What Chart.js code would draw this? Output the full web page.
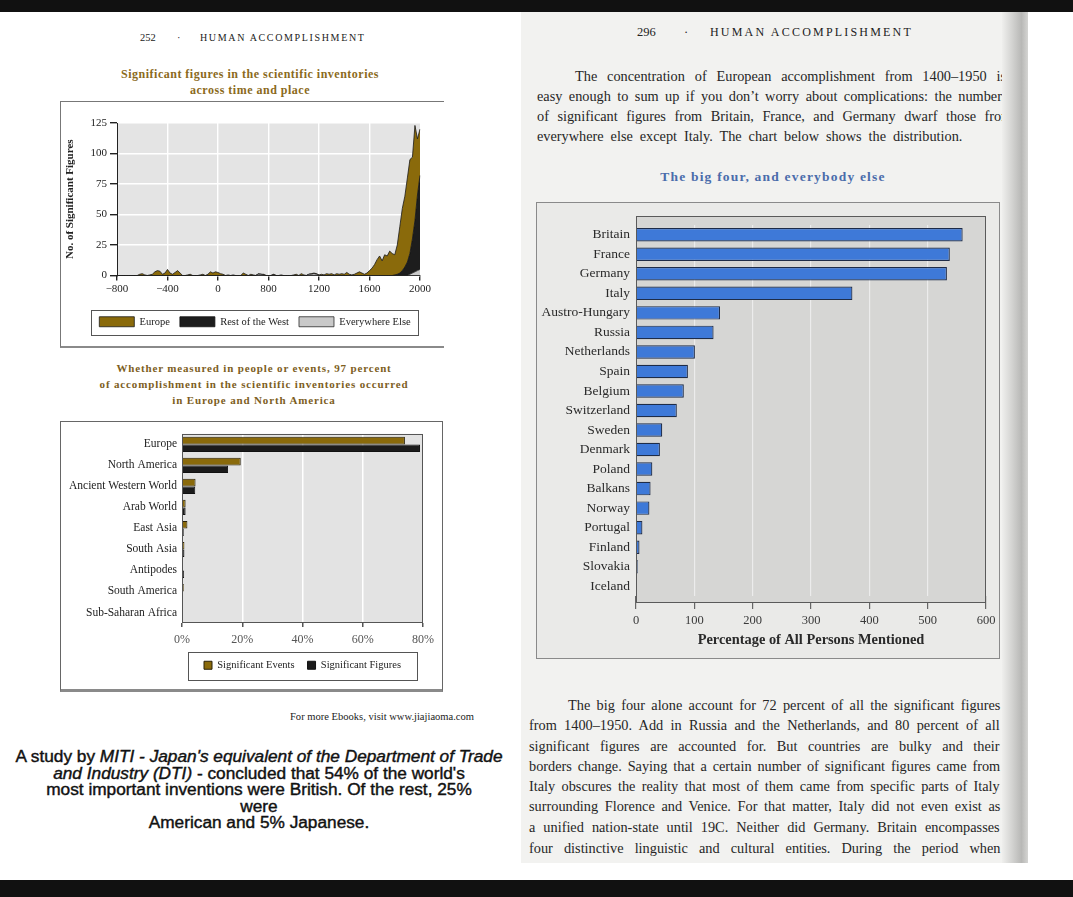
<!DOCTYPE html>
<html><head><meta charset="utf-8">
<script src="https://cdn.jsdelivr.net/npm/chart.js@4.4.1/dist/chart.umd.min.js"></script>
<style>
html,body{margin:0;padding:0}
body{width:1073px;height:897px;position:relative;overflow:hidden;background:#fff;font-family:'Liberation Serif','Times New Roman',serif;color:#222}
.a{position:absolute;white-space:nowrap}
canvas{position:absolute}
.jl{position:absolute;white-space:nowrap;font-size:14.3px;line-height:20px;height:20px;color:#262626}
</style></head><body>

<!-- right page paper -->
<div class="a" style="left:521px;top:12px;width:482px;height:851px;background:#f2f2f0"></div>

<!-- left page header + titles -->
<div class="a" style="left:140px;top:31px;font-size:10.5px;line-height:14px">252</div>
<div class="a" style="left:177px;top:31px;font-size:10.5px;line-height:14px">·</div>
<div class="a" style="left:200px;top:31px;font-size:10px;line-height:14px;letter-spacing:1.65px">HUMAN ACCOMPLISHMENT</div>
<div class="a" style="left:100px;width:300px;top:67px;text-align:center;font-size:12px;line-height:14px;font-weight:bold;color:#8b6a1c;letter-spacing:0.5px">Significant figures in the scientific inventories</div>
<div class="a" style="left:100px;width:300px;top:83px;text-align:center;font-size:12px;line-height:14px;font-weight:bold;color:#8b6a1c;letter-spacing:0.5px">across time and place</div>

<!-- chart 1 frame -->
<div class="a" style="left:60px;top:101px;width:383px;height:244px;border-top:1px solid #777;border-left:1px solid #777;border-bottom:2px solid #8a8a8a"></div>

<!-- chart 2 titles + frame -->
<div class="a" style="left:54px;width:400px;top:361px;text-align:center;font-size:11px;line-height:14px;font-weight:bold;color:#7d5e1e;letter-spacing:0.85px">Whether measured in people or events, 97 percent</div>
<div class="a" style="left:54px;width:400px;top:377px;text-align:center;font-size:11px;line-height:14px;font-weight:bold;color:#7d5e1e;letter-spacing:0.85px">of accomplishment in the scientific inventories occurred</div>
<div class="a" style="left:54px;width:400px;top:393px;text-align:center;font-size:11px;line-height:14px;font-weight:bold;color:#7d5e1e;letter-spacing:0.85px">in Europe and North America</div>
<div class="a" style="left:60px;top:421px;width:381px;height:267px;border:1px solid #666;border-bottom:3px solid #8a8a8a"></div>

<!-- left page bottom text -->
<div class="a" id="ebook" style="left:290px;top:711px;font-size:9.5px;line-height:12px;transform-origin:0 0">For more Ebooks, visit www.jiajiaoma.com</div>
<div class="a" id="miti" style="left:0;width:518px;top:749px;text-align:center;font-family:'Liberation Sans',sans-serif;font-size:16px;line-height:16.5px;color:#111;-webkit-text-stroke:0.4px #111;transform-origin:259px 0"><span id="miti1">A study by <i>MITI - Japan's equivalent of the Department of Trade</i></span><br><i>and Industry (DTI)</i> - concluded that 54% of the world's<br>most important inventions were British. Of the rest, 25%<br>were<br>American and 5% Japanese.</div>

<!-- right page header -->
<div class="a" style="left:637px;top:24px;font-size:12.5px;line-height:16px">296</div>
<div class="a" style="left:684px;top:24px;font-size:12.5px;line-height:16px">·</div>
<div class="a" style="left:710px;top:24px;font-size:12px;line-height:16px;letter-spacing:2.2px">HUMAN ACCOMPLISHMENT</div>

<!-- right page paragraph 1 -->
<div class="jl" data-l="575" data-r="1006" data-y="76">The concentration of European accomplishment from 1400–1950 is</div>
<div class="jl" data-l="537" data-r="1008" data-y="96">easy enough to sum up if you don’t worry about complications: the numbers</div>
<div class="jl" data-l="537" data-r="1012" data-y="116">of significant figures from Britain, France, and Germany dwarf those from</div>
<div class="jl" data-l="537" data-r="962" data-y="136">everywhere else except Italy. The chart below shows the distribution.</div>

<div class="a" style="left:573px;width:400px;top:169px;text-align:center;font-size:13.5px;line-height:16px;font-weight:bold;color:#4a6cab;letter-spacing:1.2px">The big four, and everybody else</div>

<!-- chart 3 frame -->
<div class="a" style="left:536px;top:202px;width:462px;height:455px;border:1px solid #8a8a8a;background:#eaeae8"></div>

<!-- right page paragraph 2 -->
<div class="jl" data-l="568" data-r="1000" data-y="705">The big four alone account for 72 percent of all the significant figures</div>
<div class="jl" data-l="529" data-r="1000" data-y="725">from 1400–1950. Add in Russia and the Netherlands, and 80 percent of all</div>
<div class="jl" data-l="529" data-r="1000" data-y="746">significant figures are accounted for. But countries are bulky and their</div>
<div class="jl" data-l="529" data-r="1000" data-y="766">borders change. Saying that a certain number of significant figures came from</div>
<div class="jl" data-l="529" data-r="1000" data-y="786">Italy obscures the reality that most of them came from specific parts of Italy</div>
<div class="jl" data-l="529" data-r="1000" data-y="806">surrounding Florence and Venice. For that matter, Italy did not even exist as</div>
<div class="jl" data-l="529" data-r="1000" data-y="827">a unified nation-state until 19C. Neither did Germany. Britain encompasses</div>
<div class="jl" data-l="529" data-r="1000" data-y="848">four distinctive linguistic and cultural entities. During the period when</div>

<canvas id="c1" width="383" height="246" style="left:60px;top:100px"></canvas>
<canvas id="c2" width="383" height="269" style="left:60px;top:422px"></canvas>
<canvas id="c3" width="464" height="457" style="left:536px;top:202px"></canvas>

<!-- gutter shadow, outer margin and scan bands on top -->
<div class="a" style="left:1002px;top:12px;width:26px;height:851px;background:linear-gradient(to right,#efefed,#d6d6d4 35%,#b8b8b6 75%,#d4d4d2);z-index:5"></div>
<div class="a" style="left:1028px;top:12px;width:45px;height:868px;background:#fff;z-index:5"></div>
<div class="a" style="left:0;top:0;width:1073px;height:12px;background:#111;z-index:6"></div>
<div class="a" style="left:0;top:880px;width:1073px;height:17px;background:#111;z-index:6"></div>

<script>
// ===================== DATA =====================
// Chart 1: significant figures across time (stacked area), 20 samples between labelled ticks
const areaTickLabels = ['−800', '−400', '0', '800', '1200', '1600', '2000'];
const samplesPerTick = 20;
const areaSeriesNames = ['Europe', 'Rest of the West', 'Everywhere Else'];
const europeFigures = [
  0,0,0,0,0,0,0,0,0,1,
  1.5,0.5,0,0.5,1,3,4,3.5,1,2,
  5,2,1,2.5,4,2,0,0,0.5,1,
  0,0,0,0.5,1,0,1,3,2,3,
  2.5,1.5,1,0,0.5,0,0.5,0,0,0,
  2,1,0,1,0.5,0,0.5,0,0.5,0,
  0,0,0.5,0,0,0.5,0,0,0,0,
  0.5,1,0,1.5,0.5,0,0,0.5,0.5,0.5,
  0.5,1,0.5,1.5,1,1.5,0.5,1.5,1,1.5,
  1,2.5,1,0.5,1,2,3,2,1,2,
  4,6,9,13,16,12,17,16,20,18,
  16.5,24,38,51,58,69,77,67,78,46,
  38
];
const restOfWestFigures = [
  0,0,0,0,0,0,0,0,0,0,
  0,0,0,0,0,0,0,0,0,0,
  0,0,0,0,0,0,0,0,0,0,
  0,0,0,0,0,0,0,0,0,0,
  0,0,0,0,0,0,0,0,0,0,
  0,0,0,0,0,0,0,0,0,0,
  0,0,0,0,0,0,0,0,0,0,
  0,0,0,0,0,0,0,0,0,0,
  0,0,0,0,0,0,0,0,0,0,
  0,0,0,0,0,0,0,0,0,0,
  0,0,0,0,0,0,0,0,0,0,
  0.5,1,2,4,7,11,17,28,42,62,
  77
];
const everywhereElseFigures = [
  0,0,0,0,0,0,0,0,0,0,
  0,0,0,0,0,0,0,0,0,0,
  0,0,0,0,0,0,0,0,0,0,
  0,0,0,0,0,0,0,0,0,0,
  0,0,0,0,0,0,0,0,0,0,
  0,0,0,0,0,0,1,1,0.5,0,
  0,0,0.5,0,0,0,0,0,0,0,
  0,0,0,0,0,0,1,1,1.5,1,
  0,0,0,0,0,0,0,0,0,0,
  0,0,0,0,0,0,0,0,0,0,
  0,0,0,0,0,0,0,0,0,0,
  0,0,0,0,0,0,1,2,3,4,
  5
];

// Chart 2: share of accomplishment by region (%)
const regions = ['Europe', 'North America', 'Ancient Western World', 'Arab World', 'East Asia', 'South Asia', 'Antipodes', 'South America', 'Sub-Saharan Africa'];
const significantEvents  = [74, 19.5, 4.5, 1.2, 1.8, 0.8, 0.15, 0.6, 0.2];
const significantFigures = [79, 15.3, 4.4, 1.2, 0.6, 0.8, 0.7, 0.1, 0.1];
const regionTickLabels = ['0%', '20%', '40%', '60%', '80%'];

// Chart 3: the big four and everybody else
const countries = ['Britain', 'France', 'Germany', 'Italy', 'Austro-Hungary', 'Russia', 'Netherlands', 'Spain', 'Belgium', 'Switzerland', 'Sweden', 'Denmark', 'Poland', 'Balkans', 'Norway', 'Portugal', 'Finland', 'Slovakia', 'Iceland'];
const personsMentioned = [560, 538, 533, 371, 144, 133, 101, 89, 82, 70, 45, 41, 28, 25, 23, 11, 6, 3, 1];
const countryTickLabels = ['0', '100', '200', '300', '400', '500', '600'];

// ===================== LAYOUT HELPERS =====================
document.querySelectorAll('.jl').forEach(el => {
  const l = +el.dataset.l, r = +el.dataset.r, y = +el.dataset.y;
  el.style.left = l + 'px'; el.style.top = (y - 10) + 'px';
  const w = el.scrollWidth;
  const n = (el.textContent.match(/ /g) || []).length;
  if (n && r > l) el.style.wordSpacing = ((r - l - w) / n) + 'px';
});
(function(){
  const m1 = document.getElementById('miti1');
  const s = 487 / m1.getBoundingClientRect().width;
  document.getElementById('miti').style.transform = 'scaleX(' + s + ')';
  const eb = document.getElementById('ebook');
  eb.style.transform = 'scaleX(' + (184 / eb.getBoundingClientRect().width) + ')';
})();

// ===================== CHARTS =====================
Chart.defaults.font.family = "'Liberation Serif', 'Times New Roman', serif";
Chart.defaults.color = '#222';

const plotPanel = {
  id: 'plotPanel',
  beforeDraw(chart, args, o) {
    const a = chart.chartArea, c = chart.ctx;
    const t = a.top - (o.extTop || 0), b = a.bottom + (o.extBottom || 0);
    c.save(); c.fillStyle = o.fill; c.fillRect(a.left, t, a.right - a.left, b - t); c.restore();
  },
  beforeDatasetsDraw(chart, args, o) {
    if (!o.extBottom) return;
    const a = chart.chartArea, c = chart.ctx;
    c.save(); c.fillStyle = o.fill; c.fillRect(a.left, a.bottom, a.right - a.left, o.extBottom); c.restore();
  },
  afterDatasetsDraw(chart, args, o) {
    if (!o.stroke) return;
    const a = chart.chartArea, c = chart.ctx;
    const t = a.top - (o.extTop || 0), b = a.bottom + (o.extBottom || 0);
    c.save(); c.strokeStyle = o.stroke; c.lineWidth = o.strokeWidth || 1;
    c.strokeRect(Math.round(a.left) + 0.5, Math.round(t) + 0.5, Math.round(a.right - a.left) - 1, Math.round(b - t) - 1);
    c.restore();
  }
};
// shifts the legend block horizontally and draws a frame round its items
const legendFrame = {
  id: 'legendFrame',
  afterLayout(chart, args, o) {
    if (!o.dx) return;
    chart.legend.left += o.dx; chart.legend.right += o.dx;
  },
  afterDraw(chart, args, o) {
    if (!o.padX) return;
    const hb = chart.legend.legendHitBoxes;
    let l = Infinity, t = Infinity, r = -Infinity, b = -Infinity;
    hb.forEach(h => { l = Math.min(l, h.left); t = Math.min(t, h.top); r = Math.max(r, h.left + h.width); b = Math.max(b, h.top + h.height); });
    const c = chart.ctx; c.save(); c.strokeStyle = o.color; c.lineWidth = o.width || 1;
    c.strokeRect(Math.round(l - o.padX) + 0.5, Math.round(t - o.padY) + 0.5, Math.round(r - l + 2 * o.padX), Math.round(b - t + 2 * o.padY));
    c.restore();
  }
};

// ---- Chart 1 ----
const areaCategories = [];
areaTickLabels.forEach((t, k) => {
  areaCategories.push(t);
  if (k < areaTickLabels.length - 1) for (let j = 1; j < samplesPerTick; j++) areaCategories.push('');
});
const isMajor = i => i % samplesPerTick === 0;
new Chart(document.getElementById('c1'), {
  type: 'line',
  data: {
    labels: areaCategories,
    datasets: [
      { label: areaSeriesNames[2], data: everywhereElseFigures, backgroundColor: '#c9c9c9', borderColor: '#2a2a2a', borderWidth: 0.8, fill: 'origin', pointRadius: 0, tension: 0 },
      { label: areaSeriesNames[1], data: restOfWestFigures, backgroundColor: '#1d1d1d', borderColor: '#111', borderWidth: 0.8, fill: '-1', pointRadius: 0, tension: 0 },
      { label: areaSeriesNames[0], data: europeFigures, backgroundColor: '#8a6a0b', borderColor: '#1a1a1a', borderWidth: 0.8, fill: '-1', pointRadius: 0, tension: 0 }
    ]
  },
  options: {
    responsive: false, animation: false, devicePixelRatio: 1,
    layout: { padding: { left: 0, right: 23, top: 23, bottom: 9 } },
    scales: {
      x: {
        type: 'category', offset: false,
        ticks: { autoSkip: false, maxRotation: 0, minRotation: 0, padding: 2, font: { size: 11 }, color: '#222', callback: (v, i) => areaCategories[i] },
        grid: {
          color: c => (isMajor(c.index) && c.index > 0 && c.index < areaCategories.length - 1) ? '#ffffff' : 'rgba(0,0,0,0)',
          lineWidth: 1.4, tickLength: 5,
          tickColor: c => isMajor(c.index) ? '#222' : 'rgba(0,0,0,0)'
        },
        border: { display: true, color: '#222', width: 1 },
        afterFit: s => { s.height = 31; }
      },
      y: {
        stacked: true, min: 0, max: 125,
        ticks: { stepSize: 25, padding: 3, font: { size: 11 }, color: '#222' },
        grid: { color: '#ffffff', lineWidth: 1.4, tickLength: 7, tickColor: '#222' },
        border: { display: true, color: '#222', width: 1 },
        title: { display: true, text: 'No. of Significant Figures', font: { size: 11, weight: 'bold' }, color: '#222', padding: { top: 4, bottom: 2 } },
        afterFit: s => { s.width = 57; }
      }
    },
    plugins: {
      legend: {
        position: 'bottom', reverse: true,
        labels: { boxWidth: 35, boxHeight: 10, padding: 10, font: { size: 10.5 }, color: '#222' }
      },
      tooltip: { enabled: false },
      plotPanel: { fill: '#e4e4e4' },
      legendFrame: { dx: 15, padX: 8, padY: 7, color: '#555', width: 1 }
    }
  },
  plugins: [plotPanel, legendFrame]
});

// ---- Chart 2 ----
new Chart(document.getElementById('c2'), {
  type: 'bar',
  data: {
    labels: regions,
    datasets: [
      { label: 'Significant Events', data: significantEvents, backgroundColor: '#8a6a0b', borderColor: '#2a2208', borderWidth: 1 },
      { label: 'Significant Figures', data: significantFigures, backgroundColor: '#1b1b1b', borderColor: '#111', borderWidth: 1 }
    ]
  },
  options: {
    indexAxis: 'y', responsive: false, animation: false, devicePixelRatio: 1,
    categoryPercentage: 0.72, barPercentage: 1,
    layout: { padding: { left: 0, right: 20, top: 8, bottom: 10.5 } },
    scales: {
      x: {
        min: 0, max: 80,
        ticks: { stepSize: 20, padding: 6, font: { size: 12 }, color: '#555', callback: (v) => regionTickLabels[v / 20] },
        grid: { color: c => (c.tick && c.tick.value > 0 && c.tick.value < 80) ? '#ffffff' : 'rgba(0,0,0,0)', lineWidth: 1.5, tickLength: 4, tickColor: '#555' },
        border: { display: false },
        afterFit: s => { s.height = 24; }
      },
      y: {
        ticks: { padding: 5, font: { size: 11.5 }, color: '#222' },
        grid: { display: false, drawTicks: false },
        border: { display: false },
        afterFit: s => { s.width = 122; }
      }
    },
    plugins: {
      legend: {
        position: 'bottom',
        labels: { boxWidth: 8, boxHeight: 8, padding: 13, font: { size: 10.5 }, color: '#222' }
      },
      tooltip: { enabled: false },
      plotPanel: { fill: '#e3e3e3', stroke: '#555' },
      legendFrame: { dx: 61, padX: 16, padY: 8.5, color: '#555', width: 1 }
    }
  },
  plugins: [plotPanel, legendFrame]
});

// ---- Chart 3 ----
new Chart(document.getElementById('c3'), {
  type: 'bar',
  data: {
    labels: countries,
    datasets: [
      { label: 'Percentage of All Persons Mentioned', data: personsMentioned, backgroundColor: '#3e79d8', borderColor: '#1e2c48', borderWidth: 1.2 }
    ]
  },
  options: {
    indexAxis: 'y', responsive: false, animation: false, devicePixelRatio: 1,
    categoryPercentage: 0.69, barPercentage: 1,
    layout: { padding: { left: 0, right: 14, top: 23, bottom: 8 } },
    scales: {
      x: {
        min: 0, max: 600,
        ticks: { stepSize: 100, padding: 4, font: { size: 12.5 }, color: '#3a3a3a', callback: (v) => countryTickLabels[v / 100] },
        grid: { color: c => (c.tick && c.tick.value > 0 && c.tick.value < 600) ? 'rgba(255,255,255,0.55)' : 'rgba(0,0,0,0)', lineWidth: 1.2, tickLength: 13, tickColor: '#666' },
        border: { display: false },
        title: { display: true, text: 'Percentage of All Persons Mentioned', font: { size: 14.4, weight: 'bold' }, color: '#2a2a2a', padding: { top: 0, bottom: 2 } },
        afterFit: s => { s.height = 55; }
      },
      y: {
        ticks: { padding: 6, font: { size: 13.5 }, color: '#2a2a2a' },
        grid: { display: false, drawTicks: false },
        border: { display: false },
        afterFit: s => { s.width = 100; }
      }
    },
    plugins: {
      legend: { display: false },
      tooltip: { enabled: false },
      plotPanel: { fill: '#d6d6d4', stroke: '#5a5a5a', extTop: 9, extBottom: 7 }
    }
  },
  plugins: [plotPanel]
});
</script>
</body></html>
